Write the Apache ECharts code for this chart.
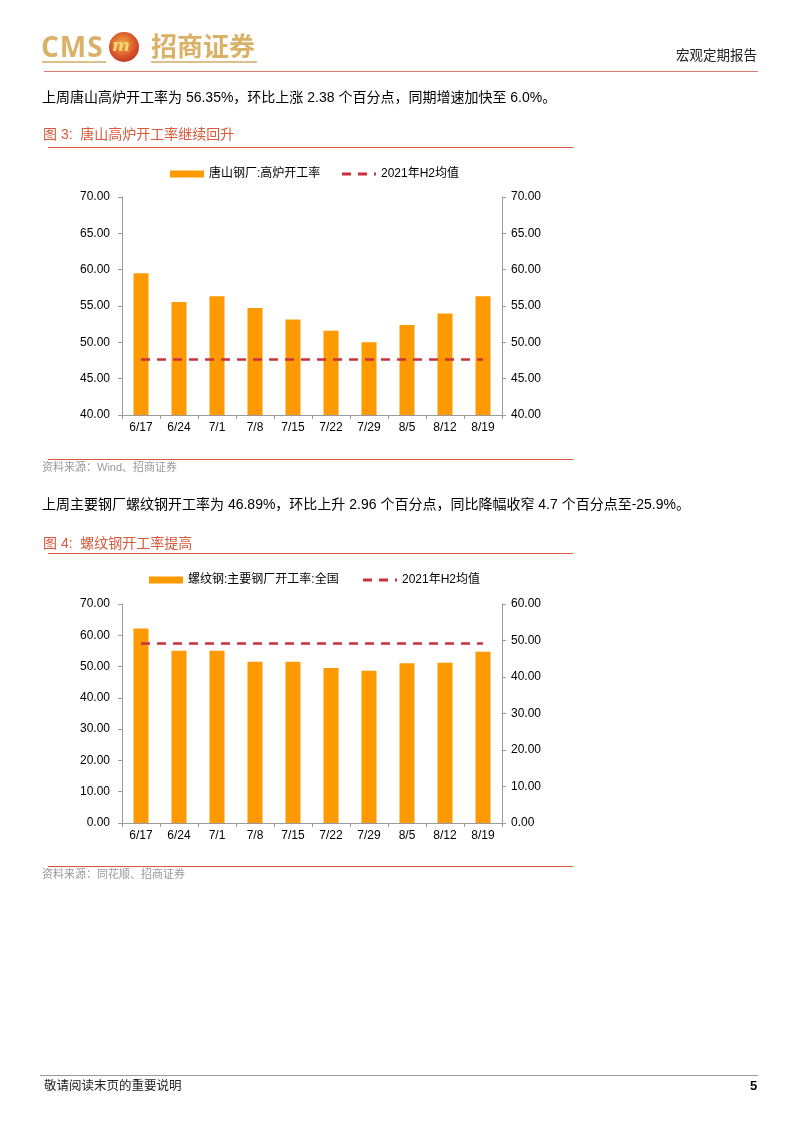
<!DOCTYPE html>
<html>
<head>
<meta charset="utf-8">
<script src="https://cdn.jsdelivr.net/npm/echarts@6/dist/echarts.min.js"></script>
<style>
html,body{margin:0;padding:0;background:#fff;}
body{width:802px;height:1133px;position:relative;overflow:hidden;font-family:"Liberation Sans",Arial,"Noto Sans CJK SC",sans-serif;}
.t{position:absolute;white-space:nowrap;line-height:1;}
.hl{position:absolute;height:0;}
#chart{position:absolute;left:0;top:0;width:802px;height:1133px;}
</style>
</head>
<body>
<div id="chart"></div>

<!-- header -->
<div class="t" style="left:41px;top:32px;font-size:28px;font-weight:bold;color:#D9B268;letter-spacing:1px;font-family:'Open Sans','Liberation Sans',sans-serif;">CMS</div>
<div style="position:absolute;left:109px;top:32px;width:30px;height:30px;border-radius:50%;background:radial-gradient(circle at 45% 40%,#F0B040 0%,#D8502A 55%,#A8201A 100%);"></div>
<div class="t" style="left:112px;top:37px;font-size:17px;font-weight:bold;font-style:italic;color:#F6D67A;font-family:'DejaVu Serif',serif;">m</div>
<div class="t" style="left:151px;top:32px;font-size:26px;font-weight:bold;color:#D9B268;font-family:'Noto Sans CJK SC',sans-serif;">招商证券</div>
<div class="hl" style="left:42px;top:61px;width:64px;border-top:2px solid #DCC08A;"></div>
<div class="hl" style="left:151px;top:61px;width:106px;border-top:2px solid #DCC08A;"></div>
<div class="t" style="left:676px;top:48px;font-size:13.5px;color:#222;font-family:'Noto Sans CJK SC',sans-serif;">宏观定期报告</div>
<div class="hl" style="left:44px;top:71px;width:714px;border-top:1px solid #E07A6E;"></div>

<!-- body text 1 -->
<div class="t" style="left:42px;top:90px;font-size:14px;color:#000;">上周唐山高炉开工率为 56.35%，环比上涨 2.38 个百分点，同期增速加快至 6.0%。</div>
<div class="t" style="left:43px;top:127px;font-size:14px;color:#D8593C;">图 3:&nbsp; 唐山高炉开工率继续回升</div>
<div class="hl" style="left:48px;top:147px;width:525px;border-top:1.5px solid #D8593C;"></div>

<div class="hl" style="left:48px;top:459px;width:525px;border-top:1.5px solid #D8593C;"></div>
<div class="t" style="left:42px;top:462px;font-size:11px;color:#999;">资料来源：Wind、招商证券</div>

<!-- body text 2 -->
<div class="t" style="left:42px;top:497px;font-size:14px;color:#000;">上周主要钢厂螺纹钢开工率为 46.89%，环比上升 2.96 个百分点，同比降幅收窄 4.7 个百分点至-25.9%。</div>
<div class="t" style="left:43px;top:536px;font-size:14px;color:#D8593C;">图 4:&nbsp; 螺纹钢开工率提高</div>
<div class="hl" style="left:48px;top:553px;width:525px;border-top:1.5px solid #D8593C;"></div>

<div class="hl" style="left:48px;top:866px;width:525px;border-top:1.5px solid #D8593C;"></div>
<div class="t" style="left:42px;top:869px;font-size:11px;color:#999;">资料来源：同花顺、招商证券</div>

<!-- footer -->
<div class="hl" style="left:40px;top:1075px;width:718px;border-top:1px solid #999;"></div>
<div class="t" style="left:44px;top:1080px;font-size:12.5px;color:#222;">敬请阅读末页的重要说明</div>
<div class="t" style="left:750px;top:1079px;font-size:13px;font-weight:bold;color:#000;">5</div>

<script>
// ---- data ----
var dates = ['6/17','6/24','7/1','7/8','7/15','7/22','7/29','8/5','8/12','8/19'];
var tangshanRate = [59.5, 55.55, 56.35, 54.73, 53.13, 51.6, 50.0, 52.4, 53.97, 56.35];
var tangshanH2Avg = [47.64, 47.64, 47.64, 47.64, 47.64, 47.64, 47.64, 47.64, 47.64, 47.64];
var rebarRate = [53.3, 47.2, 47.2, 44.2, 44.2, 42.5, 41.7, 43.8, 43.93, 46.89];
var rebarH2Avg = [49.2, 49.2, 49.2, 49.2, 49.2, 49.2, 49.2, 49.2, 49.2, 49.2];
var names1 = ['唐山钢厂:高炉开工率', '2021年H2均值'];
var names2 = ['螺纹钢:主要钢厂开工率:全国', '2021年H2均值'];

var FONT = '"Liberation Sans", Arial, "Noto Sans CJK SC", sans-serif';
var AX = '#9A9A9A';
var BAR = '#FF9900';
var RED = '#C8323C';
var DASH_ICON = 'path://M0,0h9v3h-9zM16,0h9v3h-9zM32,0h2v3h-2z';

function xAx(gi){
  return {
    type:'category', gridIndex:gi, data:dates, boundaryGap:true,
    axisLine:{show:true, lineStyle:{color:AX, width:1}},
    axisTick:{show:true, length:4, lineStyle:{color:AX}},
    axisLabel:{color:'#000', fontSize:12, fontFamily:FONT, margin:7, interval:0},
    splitLine:{show:false}
  };
}
function yAx(gi, pos, min, max, itv, margin){
  return {
    type:'value', gridIndex:gi, position:pos, min:min, max:max, interval:itv,
    axisLine:{show:true, lineStyle:{color:AX, width:1}},
    axisTick:{show:true, length:4, lineStyle:{color:AX}},
    axisLabel:{color:'#000', fontSize:12, fontFamily:FONT, margin:margin,
      formatter:function(v){return v.toFixed(2);}},
    splitLine:{show:false}
  };
}
var legendText = {color:'#000', fontSize:12, fontFamily:FONT};
function barLegend(name, left, top){
  return {data:[{name:name, icon:'rect'}], left:left, top:top, padding:0,
    itemWidth:34, itemHeight:7, textStyle:legendText};
}
function lineLegend(name, left, top){
  return {data:[{name:name, icon:DASH_ICON}], left:left, top:top, padding:0,
    itemWidth:34, itemHeight:3, textStyle:legendText};
}

var chart = echarts.init(document.getElementById('chart'), null, {renderer:'canvas'});
chart.setOption({
  animation:false,
  grid:[
    {left:122, top:197, width:380, height:218},
    {left:122, top:604, width:380, height:219}
  ],
  xAxis:[xAx(0), xAx(1)],
  yAxis:[
    yAx(0,'left',40,70,5,12),
    yAx(0,'right',40,70,5,9),
    yAx(1,'left',0,70,10,12),
    yAx(1,'right',0,60,10,9)
  ],
  legend:[
    barLegend(names1[0], 170, 168),
    lineLegend(names1[1], 342, 168),
    barLegend(names2[0], 149, 574),
    lineLegend(names2[1], 363, 574)
  ],
  series:[
    {name:names1[0], type:'bar', xAxisIndex:0, yAxisIndex:0, data:tangshanRate, barWidth:15, itemStyle:{color:BAR}},
    {name:names1[1], type:'line', xAxisIndex:0, yAxisIndex:0, data:tangshanH2Avg, symbol:'none',
      lineStyle:{color:RED, width:2.5, type:[9,7]}, itemStyle:{color:RED}},
    {name:names2[0], type:'bar', xAxisIndex:1, yAxisIndex:3, data:rebarRate, barWidth:15, itemStyle:{color:BAR}},
    {name:names2[1], type:'line', xAxisIndex:1, yAxisIndex:3, data:rebarH2Avg, symbol:'none',
      lineStyle:{color:RED, width:2.5, type:[9,7]}, itemStyle:{color:RED}}
  ]
});
</script>
</body>
</html>
